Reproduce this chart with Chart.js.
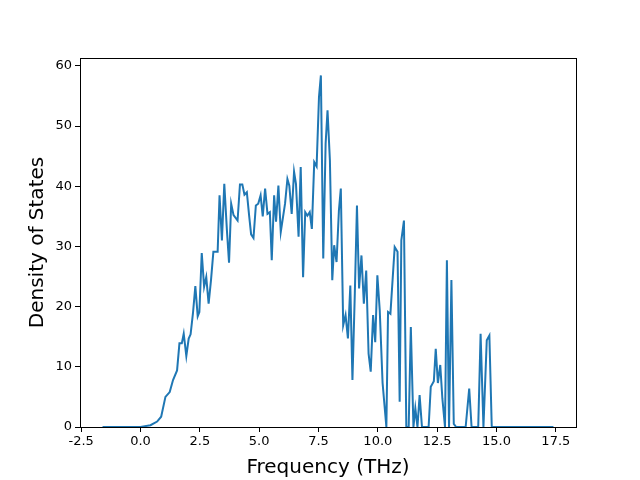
<!DOCTYPE html>
<html>
<head>
<meta charset="utf-8">
<script src="https://cdn.jsdelivr.net/npm/chart.js"></script>
<style>
  html, body { margin: 0; padding: 0; background: #fff; }
  #wrap { width: 640px; height: 480px; }
</style>
</head>
<body>
<div id="wrap"><canvas id="dos"></canvas></div>
<script>
// frequency (THz) and density of states
const freq = [
  -1.6, 0.0, 0.42, 0.7, 0.87, 1.05, 1.23, 1.37, 1.54, 1.64, 1.74, 1.82, 1.93, 2.03, 2.11,
  2.21, 2.31, 2.41, 2.48, 2.58, 2.68, 2.77, 2.87, 2.97, 3.07, 3.25, 3.33, 3.43, 3.53,
  3.64, 3.73, 3.82, 3.92, 4.09, 4.19, 4.29, 4.38, 4.48, 4.58, 4.66, 4.76, 4.86, 4.96,
  5.06, 5.15, 5.25, 5.35, 5.45, 5.53, 5.63, 5.71, 5.81, 5.91, 6.09, 6.19, 6.27, 6.37,
  6.47, 6.55, 6.66, 6.75, 6.85, 6.94, 7.03, 7.13, 7.22, 7.32, 7.42, 7.52, 7.6, 7.7,
  7.8, 7.88, 7.98, 8.08, 8.16, 8.26, 8.36, 8.44, 8.54, 8.64, 8.74, 8.84, 8.93, 9.03,
  9.12, 9.21, 9.31, 9.41, 9.51, 9.61, 9.7, 9.8, 9.89, 9.98, 10.08, 10.2, 10.36, 10.43,
  10.53, 10.71, 10.83, 10.92, 10.99, 11.1, 11.2, 11.3, 11.39, 11.5, 11.58, 11.67, 11.76,
  11.86, 12.14, 12.23, 12.36, 12.44, 12.53, 12.63, 12.72, 12.83, 12.91, 13.0, 13.1,
  13.2, 13.3, 13.7, 13.85, 13.95, 14.23, 14.33, 14.45, 14.59, 14.7, 14.8, 17.4
];
const dos = [
  0, 0, 0.3, 0.9, 1.7, 5.0, 5.8, 7.8, 9.4, 13.9, 13.9, 15.5, 11.8, 14.7, 15.4,
  18.9, 23.4, 18.4, 19.1, 28.9, 23.3, 24.9, 20.5, 24.4, 29.1, 29.1, 38.5, 31, 40.4,
  32.7, 27.3, 37.1, 35.2, 34.3, 40.3, 40.3, 38.6, 39, 35, 32, 31.4, 36.8, 37.1,
  38.5, 35, 39.6, 35.4, 35.7, 27.7, 38.5, 34.1, 40.1, 32.4, 37.1, 41.2, 40.1, 35.4,
  42.4, 40.4, 31.6, 43.2, 24.9, 35.7, 35.1, 35.7, 32.9, 44, 43.3, 54.8, 58.4, 28,
  47.1, 52.6, 44.3, 24.4, 30.2, 27.4, 36, 39.6, 16.9, 18.6, 14.7, 23.5, 7.8, 22.2,
  36.8, 23, 28.5, 20.5, 26, 12.2, 9.2, 18.6, 14.1, 25.2, 19.4, 7.3, 0, 19.1,
  18.8, 29.9, 29.1, 4.2, 31, 34.3, 0, 0, 16.6, 0, 3.1, 0, 5.3,
  0, 0, 6.7, 7.6, 13, 7.3, 10.3, 4.7, 0, 27.7, 0, 24.4,
  0.5, 0, 0, 6.4, 0, 0, 15.5, 0, 14.4, 15.2, 0, 0
];
const xTicks = [-2.5, 0, 2.5, 5, 7.5, 10, 12.5, 15, 17.5];
const yTicks = [0, 10, 20, 30, 40, 50, 60];

const points = freq.map((f, i) => ({ x: f, y: dos[i] }));

const frame = {
  id: "frame",
  afterDraw(chart) {
    const { ctx, chartArea: a } = chart;
    ctx.save();
    ctx.strokeStyle = "#000";
    ctx.lineWidth = 1;
    ctx.strokeRect(Math.round(a.left) + 0.5, Math.round(a.top) + 0.5,
      Math.round(a.right - a.left), Math.round(a.bottom - a.top));
    ctx.restore();
  }
};

new Chart(document.getElementById("dos"), {
  type: "scatter",
  data: {
    datasets: [{
      data: points,
      showLine: true,
      borderColor: "#1f77b4",
      borderWidth: 2,
      pointRadius: 0,
      tension: 0
    }]
  },
  options: {
    responsive: true,
    maintainAspectRatio: false,
    animation: false,
    layout: { padding: { left: 26, right: 64, top: 58, bottom: 0 } },
    plugins: { legend: { display: false }, tooltip: { enabled: false } },
    scales: {
      x: {
        type: "linear",
        min: -2.55,
        max: 18.35,
        afterBuildTicks: s => { s.ticks = xTicks.map(v => ({ value: v })); },
        afterFit: s => { s.height = 53; },
        ticks: {
          color: "#000",
          font: { family: "DejaVu Sans", size: 13 },
          padding: 2,
          maxRotation: 0,
          callback: v => v.toFixed(1)
        },
        grid: { drawOnChartArea: false, color: "#000", tickLength: 5 },
        border: { color: "#000" },
        title: {
          display: true,
          text: "Frequency (THz)",
          color: "#000",
          font: { family: "DejaVu Sans", size: 20 },
          padding: { top: 0, bottom: 0 }
        }
      },
      y: {
        min: 0,
        max: 61.3,
        afterBuildTicks: s => { s.ticks = yTicks.map(v => ({ value: v })); },
        afterFit: s => { s.width = 54; },
        ticks: {
          color: "#000",
          font: { family: "DejaVu Sans", size: 13 },
          padding: 3,
          callback: v => String(v)
        },
        grid: { drawOnChartArea: false, color: "#000", tickLength: 5 },
        border: { color: "#000" },
        title: {
          display: true,
          text: "Density of States",
          color: "#000",
          font: { family: "DejaVu Sans", size: 20 },
          padding: { top: 0, bottom: 0 }
        }
      }
    }
  },
  plugins: [frame]
});
</script>
</body>
</html>
